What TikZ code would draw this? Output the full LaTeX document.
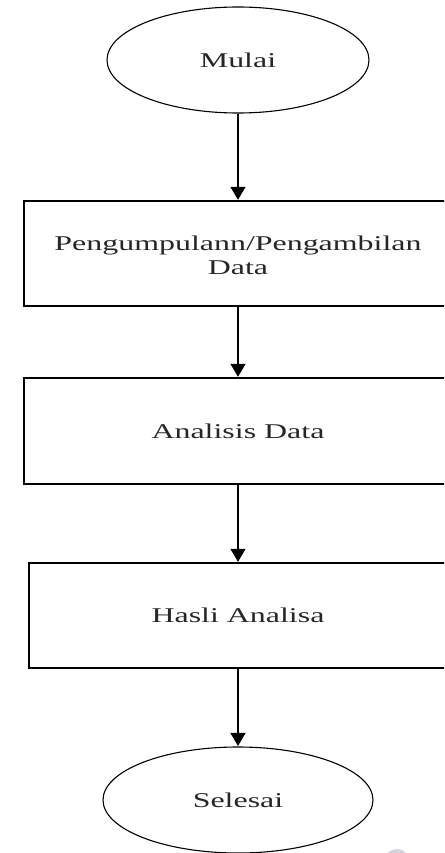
\documentclass[tikz,border=0pt]{standalone}
\usepackage{fontspec}
\setmainfont{Liberation Serif}
\usetikzlibrary{shapes.geometric,arrows.meta}
\newcommand{\widetext}[1]{\scalebox{1.52}[1]{#1}}
\tikzset{
  flowtext/.style={font=\fontsize{21}{25}\selectfont, text=black!85, inner sep=0pt},
  terminal/.style={ellipse, draw=black, line width=1.1pt, minimum height=106pt, inner sep=0pt},
  procbox/.style={rectangle, draw=black, line width=1.4pt, minimum height=105pt, inner sep=0pt},
  flowarrow/.style={draw=black, line width=1.4pt, -{Triangle[width=15pt,length=13pt]}, shorten >=0.5pt}
}
\begin{document}
\begin{tikzpicture}[x=1pt,y=-1pt]
  \useasboundingbox (0,0) rectangle (444,853);
  \clip (0,0) rectangle (444,853);
  \fill[white] (0,0) rectangle (444,853);

  % terminals
  \node[terminal, minimum width=262pt] (start) at (238,60) {};
  \node[flowtext] at (start.center) {\widetext{Mulai}};
  \node[terminal, minimum width=270pt] (finish) at (238,800) {};
  \node[flowtext] at (finish.center) {\widetext{Selesai}};

  % process steps
  \node[procbox, minimum width=428pt] (collect) at (238,253.5) {};
  \node[flowtext] at (238,257) {\widetext{\begin{tabular}{@{}c@{}}Pengumpulann/Pengambilan\\[-1pt]Data\end{tabular}}};
  \node[procbox, minimum width=428pt, minimum height=106pt] (analysis) at (238,431) {};
  \node[flowtext] at (analysis.center) {\widetext{Analisis Data}};
  \node[procbox, minimum width=418pt] (result) at (238,615.5) {};
  \node[flowtext] at (result.center) {\widetext{Hasli Analisa}};

  % connectors
  \draw[flowarrow] (start.south) -- (collect.north);
  \draw[flowarrow] (collect.south) -- (analysis.north);
  \draw[flowarrow] (analysis.south) -- (result.north);
  \draw[flowarrow] (result.south) -- (finish.north);

  % faint mark at the lower edge
  \fill[blue!20!gray!30] (397,862) circle (13pt);
\end{tikzpicture}
\end{document}
